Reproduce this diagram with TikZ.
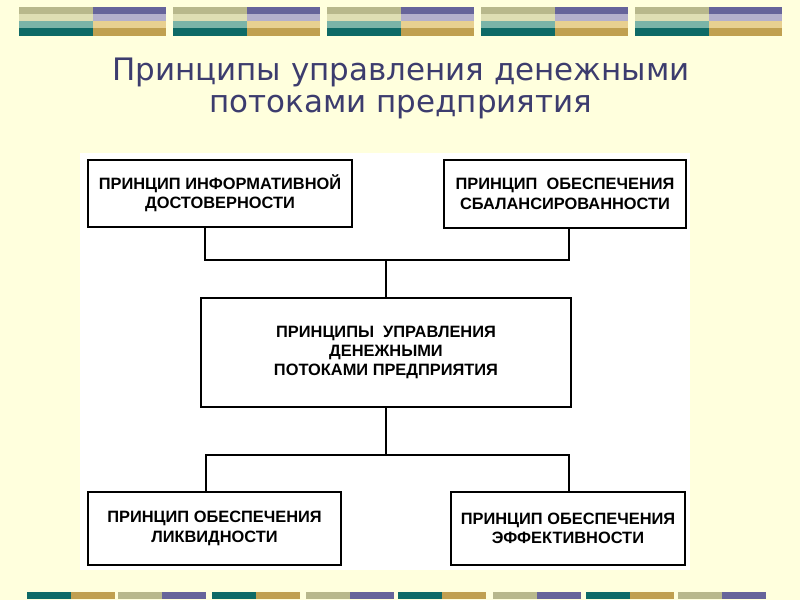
\documentclass[tikz,border=0pt]{standalone}
\usepackage{fontspec}
\setmainfont{Liberation Sans}
\newfontfamily\titlefont{DejaVu Sans}
\definecolor{bgyellow}{HTML}{FFFFDD}
\definecolor{titleblue}{HTML}{3C3C6E}
\definecolor{khaki}{HTML}{B8B88C}
\definecolor{lightkhaki}{HTML}{DEDEB4}
\definecolor{teal}{HTML}{0E6A66}
\definecolor{lightteal}{HTML}{7AB4A8}
\definecolor{purple}{HTML}{66649A}
\definecolor{lightpurple}{HTML}{B4B0CC}
\definecolor{gold}{HTML}{C0A050}
\definecolor{lightgold}{HTML}{E8D090}
\tikzset{
  box/.style={draw=black, line width=1.2pt, fill=white, align=center,
    font=\fontsize{12.3}{14.5}\selectfont\bfseries},
  link/.style={line width=1.2pt}
}
\begin{document}
\begin{tikzpicture}[x=0.75pt, y=-0.75pt]
\useasboundingbox (0,0) rectangle (800,600);
\fill[bgyellow] (0,0) rectangle (800,600);

% Top ribbon
\foreach \x in {19,173,327,481,635}{
  \fill[khaki] (\x,7) rectangle +(74,7);
  \fill[lightkhaki] (\x,14) rectangle +(74,7);
  \fill[lightteal] (\x,21) rectangle +(74,7);
  \fill[teal] (\x,28) rectangle +(74,8);
  \fill[purple] (\x+74,7) rectangle +(73,7);
  \fill[lightpurple] (\x+74,14) rectangle +(73,7);
  \fill[lightgold] (\x+74,21) rectangle +(73,7);
  \fill[gold] (\x+74,28) rectangle +(73,8);
}

% Bottom ribbon
\foreach \x/\ca/\cb in {27/teal/gold,118/khaki/purple,212/teal/gold,306/khaki/purple,
    398/teal/gold,493/khaki/purple,586/teal/gold,678/khaki/purple}{
  \fill[\ca] (\x,592) rectangle +(44,7);
  \fill[\cb] (\x+44,592) rectangle +(44,7);
}

% Title
\node[font=\titlefont\fontsize{23.2}{24}\selectfont, text=titleblue, align=center] (title) at (401,88)
  {Принципы управления денежными\\потоками предприятия};

% White panel
\fill[white] (80,153) rectangle (690,570);

% Boxes
\node[box, minimum width=198pt, minimum height=50pt] (info) at (220,193.5)
  {ПРИНЦИП ИНФОРМАТИВНОЙ\\ДОСТОВЕРНОСТИ};
\node[box, minimum width=181.5pt, minimum height=51pt] (balance) at (565,194)
  {ПРИНЦИП\ \ ОБЕСПЕЧЕНИЯ\\СБАЛАНСИРОВАННОСТИ};
\node[box, minimum width=277.5pt, minimum height=82pt] (main) at (386,352.5)
  {ПРИНЦИПЫ\ \ УПРАВЛЕНИЯ\\ДЕНЕЖНЫМИ\\ПОТОКАМИ ПРЕДПРИЯТИЯ};
\node[box, minimum width=190pt, minimum height=55pt] (liquid) at (214.5,528.5)
  {ПРИНЦИП ОБЕСПЕЧЕНИЯ\\ЛИКВИДНОСТИ};
\node[box, minimum width=175.5pt, minimum height=55pt] (effect) at (568,528.5)
  {ПРИНЦИП ОБЕСПЕЧЕНИЯ\\ЭФФЕКТИВНОСТИ};

% Connectors
\coordinate (topbus) at (386,260);
\coordinate (botbus) at (386,455);
\draw[link] (info.south -| 205,0) |- (topbus) -| (balance.south -| 569,0);
\draw[link] (topbus) -- (main.north);
\draw[link] (main.south) -- (botbus);
\draw[link] (liquid.north -| 206,0) |- (botbus) -| (effect.north -| 569,0);
\end{tikzpicture}
\end{document}
